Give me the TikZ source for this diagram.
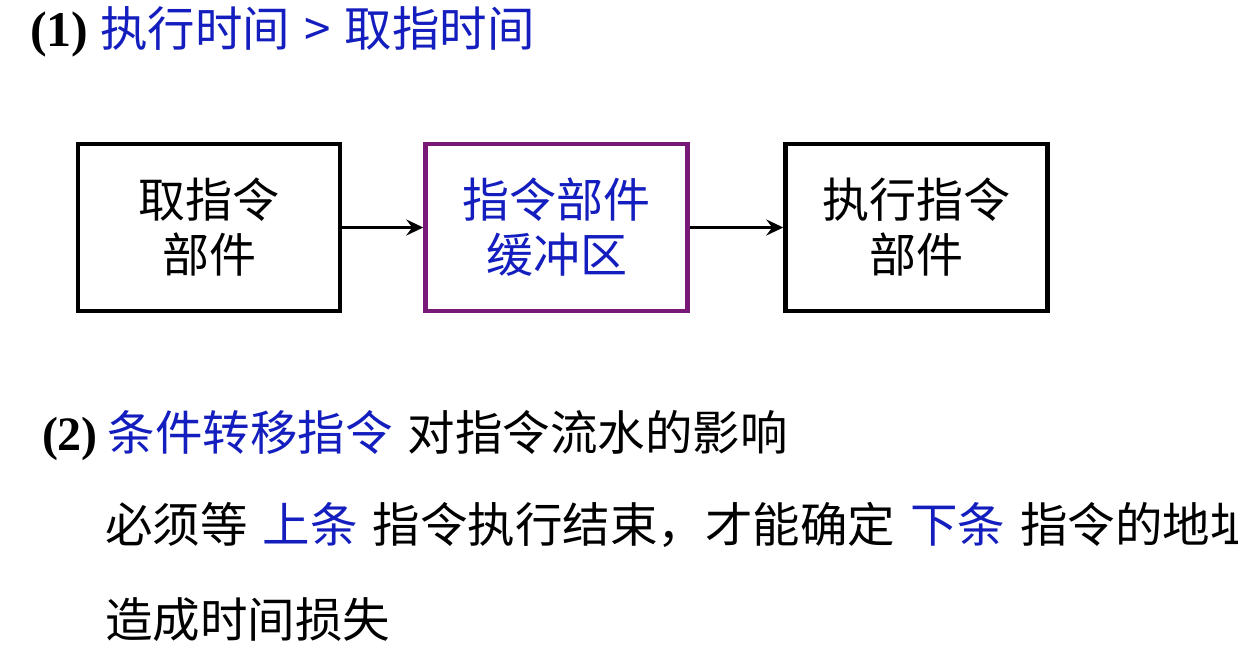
\documentclass[tikz,border=0pt]{standalone}
\usepackage{fontspec}
\setmainfont{Liberation Serif}
\newfontfamily\cjk{Noto Sans CJK SC}
\usetikzlibrary{arrows.meta}
\definecolor{tblue}{RGB}{20,30,190}
\definecolor{tpurple}{RGB}{120,25,120}
\newcommand{\gap}{\hspace{15pt}}
\begin{document}
\begin{tikzpicture}[x=1pt,y=-1pt,
  txt/.style={inner sep=0pt,outer sep=0pt,anchor=west,font=\cjk\fontsize{47.5}{55}\selectfont},
  num/.style={},
  unit/.style={draw,line width=4.5pt,minimum width=262pt,minimum height=167pt,inner sep=0pt,align=center,font=\cjk\fontsize{47}{55}\selectfont},
  flow/.style={line width=3.5pt,-{Stealth[length=17pt,width=16pt,inset=6pt]}}]
\useasboundingbox (0,0) rectangle (1238,660);
\node[txt] (t1) at (30,32) {{\rmfamily\bfseries\fontsize{50}{55}\selectfont (1)}\hspace{12pt}\textcolor{tblue}{执行时间\hspace{14pt}>\hspace{14pt}取指时间}};
\node[unit] (a) at (209,227.5) {取指令\\部件};
\node[unit,draw=tpurple,text=tblue] (b) at (556.5,227.5) {指令部件\\缓冲区};
\node[unit] (c) at (916.5,227.5) {执行指令\\部件};
\draw[flow] (a.east) -- (b.west);
\draw[flow] (b.east) -- (c.west);
\node[txt] (t2) at (42,436) {{\rmfamily\bfseries\fontsize{48}{55}\selectfont (2)}\hspace{10pt}\textcolor{tblue}{条件转移指令}\gap 对指令流水的影响};
\node[txt] (t3) at (105,525) {必须等\gap\textcolor{tblue}{上条}\gap 指令执行结束，才能确定\gap\textcolor{tblue}{下条}\gap 指令的地址};
\node[txt] (t4) at (105,620) {造成时间损失};
\end{tikzpicture}
\end{document}
